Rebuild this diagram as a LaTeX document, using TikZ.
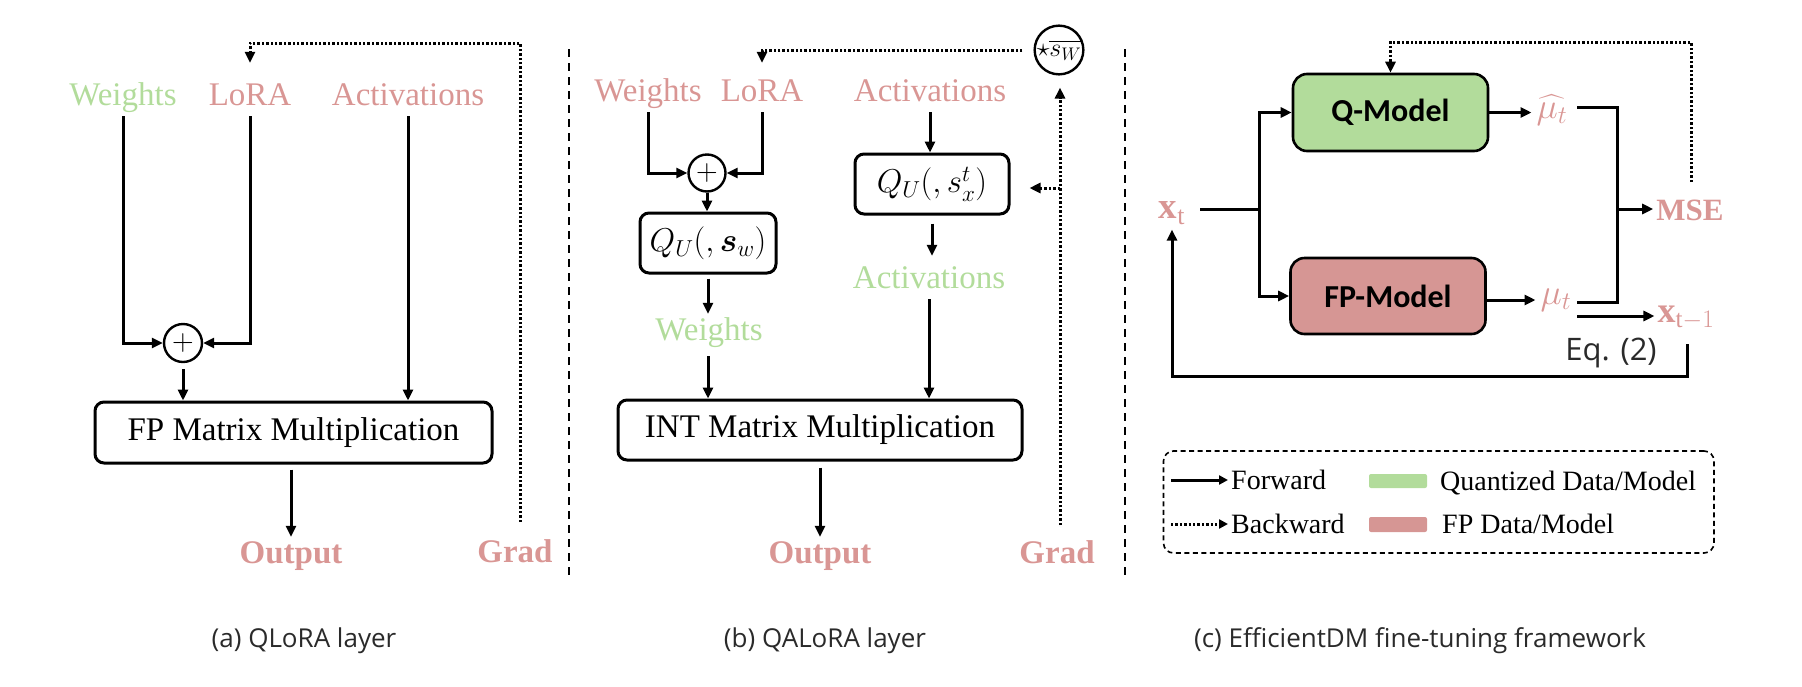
\RequirePackage{fix-cm}
\documentclass[tikz,border=0pt]{standalone}
\usepackage{amsmath}
\usepackage{fontspec}
\setmainfont{Liberation Serif}
\newfontfamily\carl{Carlito}
\newfontfamily\osans{Open Sans}
\usetikzlibrary{arrows.meta}
\definecolor{qgreen}{HTML}{B2DC9B}
\definecolor{fpred}{HTML}{D69694}
\definecolor{pinktxt}{HTML}{D99694}
\definecolor{capgray}{HTML}{2A2A2A}
\begin{document}
\begin{tikzpicture}[x=1pt,y=-1pt,
  ln/.style={line width=3pt},
  arr/.style={line width=3pt,-{Triangle[length=11pt,width=10pt]}},
  dotln/.style={line width=3pt,dash pattern=on 2.4pt off 2pt},
  dotarr/.style={dotln,-{Triangle[length=11pt,width=10pt]}},
  sep/.style={line width=2.8pt,dash pattern=on 8pt off 6pt},
  lbl/.style={font=\fontsize{33}{40}\selectfont,inner sep=3pt,text height=23pt,text depth=8pt},
  lblb/.style={font=\fontsize{33}{40}\selectfont\bfseries,inner sep=3pt,text height=23pt,text depth=8pt,text=pinktxt},
  box/.style={draw,line width=3pt,rounded corners=9pt,font=\fontsize{33}{40}\selectfont,inner sep=0pt},
  plusnode/.style={draw,circle,line width=2.4pt,minimum size=38pt,inner sep=0pt,font=\fontsize{30}{36}\selectfont},
  mbox/.style={draw,line width=2.6pt,rounded corners=14pt,font=\fontsize{32}{38}\selectfont\carl\bfseries,inner sep=0pt},
  mathlbl/.style={text=pinktxt,inner sep=3pt,font=\fontsize{34}{40}\selectfont},
  legtxt/.style={font=\fontsize{28}{34}\selectfont,inner sep=3pt},
  captxt/.style={font=\fontsize{26}{32}\selectfont\osans,text=capgray}
]
\useasboundingbox (0,0) rectangle (1802,686);

% ---------------- panel (a)
\node[lbl,text=qgreen,anchor=base] (wA) at (123,105) {Weights};
\node[lbl,text=pinktxt,anchor=base] (lA) at (250,105) {LoRA};
\node[lbl,text=pinktxt,anchor=base] (aA) at (408,105) {Activations};
\node[plusnode] (pA) at (183,343) {$+$};
\node[box,minimum width=397pt,minimum height=61pt] (mA) at (293.5,432.5) {FP Matrix Multiplication};
\node[lblb,anchor=base] (oA) at (291,563) {Output};
\node[lblb,anchor=base] (gA) at (515,562) {Grad};

\draw[arr] (wA.south) |- (pA.west);
\draw[arr] (lA.south) |- (pA.east);
\draw[arr,shorten <=6pt] (pA.south) -- (pA.south |- mA.north);
\draw[arr] (aA.south) -- (aA.south |- mA.north);
\draw[arr,shorten <=5pt] (oA.north |- mA.south) -- (oA.north);
\coordinate (dA0) at (520,522);
\coordinate (dA1) at (520,43);
\draw[dotarr,shorten >=16pt] (dA0) -- (dA1) -| (lA.north);

\draw[sep] (569,49) -- (569,575);

% ---------------- panel (b)
\node[lbl,text=pinktxt,anchor=base] (wB) at (648,101) {Weights};
\node[lbl,text=pinktxt,anchor=base] (lB) at (762,101) {LoRA};
\node[lbl,text=pinktxt,anchor=base] (aB) at (930,101) {Activations};
\node[plusnode,minimum size=37pt] (pB) at (707,173) {$+$};
\node[box,minimum width=136pt,minimum height=60pt] (qwB) at (708,243) {$Q_U(,\boldsymbol{s}_w)$};
\node[box,minimum width=154pt,minimum height=60pt] (qxB) at (932,184) {$Q_U(,s_x^t)$};
\node[lbl,text=qgreen,anchor=base] (aB2) at (929,288) {Activations};
\node[lbl,text=qgreen,anchor=base] (wB2) at (709,340) {Weights};
\node[box,minimum width=404pt,minimum height=60pt] (mB) at (820,430) {INT Matrix Multiplication};
\node[lblb,anchor=base] (oB) at (820,563) {Output};
\node[lblb,anchor=base] (gB) at (1057,563) {Grad};
\node[circle,draw,line width=2.4pt,minimum size=48pt,inner sep=0pt,font=\fontsize{26}{30}\selectfont] (sB) at (1059,50) {$\star\overline{s_W}$};

\draw[arr] (wB.south) |- (pB.west);
\draw[arr] (lB.south) |- (pB.east);
\draw[arr] (pB.south) -- (pB.south |- qwB.north);
\draw[arr,shorten <=4pt] (qwB.south) -- (qwB.south |- wB2.north);
\draw[arr,shorten <=5pt] (qwB.south |- wB2.south) -- (qwB.south |- mB.north);
\draw[arr] (aB.south) -- (aB.south |- qxB.north);
\draw[arr,shorten <=8pt,shorten >=6pt] (qxB.south) -- (qxB.south |- aB2.north);
\draw[arr] (aB2.south) -- (aB2.south |- mB.north);
\draw[arr,shorten <=6pt] (mB.south) -- (oB.north);
\coordinate (dB0) at (1060,525);
\coordinate (dB1) at (1060,188);
\draw[dotarr,shorten >=12pt] (dB0) -- (dB0 |- sB.south);
\draw[dotarr,shorten >=19pt] (dB1) -- (qxB.east |- dB1);
\draw[dotarr,shorten <=11pt,shorten >=12pt] (sB.west) -| (lB.north);

\draw[sep] (1125,49) -- (1125,575);

% ---------------- panel (c)
\node[mbox,fill=qgreen,minimum width=195pt,minimum height=77pt] (qm) at (1390.5,112.5) {Q-Model};
\node[mbox,fill=fpred,minimum width=195pt,minimum height=76pt] (fm) at (1388,296) {FP-Model};
\node[mathlbl,font=\fontsize{37}{44}\selectfont] (xt) at (1172,213) {$\mathbf{x}_{\mathrm{t}}$};
\node[mathlbl,font=\fontsize{36}{42}\selectfont] (muh) at (1552,110) {$\widehat{\mu_t}$};
\node[mathlbl,font=\fontsize{36}{42}\selectfont] (mu) at (1556,300) {$\mu_t$};
\node[mathlbl,font=\fontsize{31}{36}\selectfont\bfseries] (mse) at (1690,210) {MSE};
\node[mathlbl,font=\fontsize{36}{42}\selectfont] (xt1) at (1686,318) {$\mathbf{x}_{\mathrm{t}-1}$};
\node[font=\fontsize{31}{36}\selectfont\osans,text=capgray,inner sep=0pt] (eq) at (1611,353) {Eq. (2)};

\coordinate (split) at (1259,209);
\draw[ln,shorten <=12pt] (xt.east |- split) -- (split);
\draw[arr] (split) |- (qm.west);
\draw[arr] (split) |- (fm.west);
\draw[arr,shorten >=2pt] (qm.east) -- (qm.east -| muh.west);
\draw[arr,shorten >=2pt] (fm.east |- mu) -- (mu.west);
\coordinate (br1) at (1617,107);
\coordinate (br2) at (1617,302);
\coordinate (msesplit) at (1617,209);
\draw[ln] (1577,107) -- (br1) -- (br2) -- (1577,302);
\draw[arr] (msesplit) -- (mse.west |- msesplit);
\coordinate (m2) at (1577,316);
\draw[arr] (m2) -- (xt1.west |- m2);
\coordinate (fb0) at (1687,344);
\coordinate (fb1) at (1687,376);
\draw[arr,shorten >=2pt] (fb0) -- (fb1) -| (xt.south);
\coordinate (d0) at (1691,182);
\coordinate (d1) at (1691,42);
\draw[dotarr] (d0) -- (d1) -| (qm.north);

% legend
\node[draw,line width=1.6pt,dash pattern=on 5pt off 3.5pt,rounded corners=10pt,minimum width=550.5pt,minimum height=102pt,inner sep=0pt] (leg) at (1438.75,502) {};
\node[legtxt,anchor=base west] (fw) at (1228,489) {Forward};
\node[legtxt,anchor=base west] (bw) at (1228,533) {Backward};
\coordinate (f0) at (1171,480);
\coordinate (b0) at (1171,524);
\draw[line width=3pt,-{Triangle[length=9pt,width=9pt]}] (f0) -- (f0 -| fw.west);
\draw[line width=3pt,dash pattern=on 2.4pt off 2pt,-{Triangle[length=9pt,width=9pt]}] (b0) -- (b0 -| bw.west);
\node[fill=qgreen,rounded corners=2pt,minimum width=58pt,minimum height=14pt,inner sep=0pt] (sq) at (1398,481) {};
\node[fill=fpred,rounded corners=2pt,minimum width=58pt,minimum height=15pt,inner sep=0pt] (sr) at (1398,524.5) {};
\node[legtxt,anchor=base west] (tq) at (1437,490) {Quantized Data/Model};
\node[legtxt,anchor=base west] (tr) at (1439,533) {FP Data/Model};

% captions
\node[captxt] (capA) at (304,641) {(a) QLoRA layer};
\node[captxt] (capB) at (825,641) {(b) QALoRA layer};
\node[captxt] (capC) at (1420,641) {(c) EfficientDM fine-tuning framework};
\end{tikzpicture}
\end{document}
